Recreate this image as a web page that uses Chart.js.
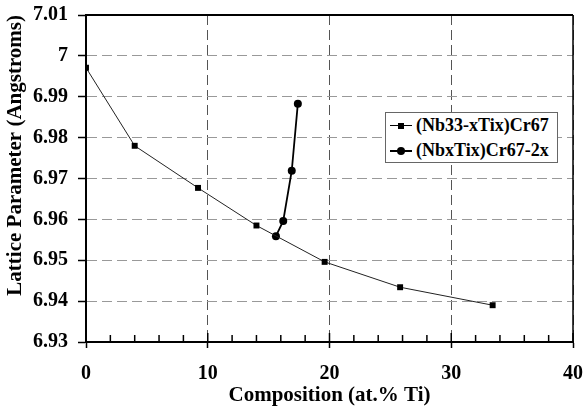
<!DOCTYPE html>
<html>
<head>
<meta charset="utf-8">
<script src="https://cdn.jsdelivr.net/npm/chart.js@4"></script>
<style>
  body { margin: 0; background: #fff; }
  #wrap { position: relative; width: 585px; height: 410px; }
  #legend {
    position: absolute; left: 385px; top: 112px; width: 171px; height: 49px;
    border: 1px solid #666; background: #fff;
    font: bold 18px "Liberation Serif", "Times New Roman", serif; color: #000;
  }
  .row { height: 25px; line-height: 25px; white-space: nowrap; }
  .sym { display: inline-block; position: relative; width: 22px; height: 25px; margin-left: 4px; margin-right: 4px; vertical-align: top; }
  .sym .ln { position: absolute; left: 0; right: 0; top: 12px; border-top: 1px solid #000; }
  .sym .mk { position: absolute; background: #000; }
</style>
</head>
<body>
<div id="wrap">
  <canvas id="chart" width="585" height="410"></canvas>
  <div id="legend"></div>
</div>
<script>
let seriesNames = ["(Nb33-xTix)Cr67", "(NbxTix)Cr67-2x"];
// (Nb33-xTix)Cr67
let tiA = [0, 4.0, 9.2, 14.0, 19.6, 25.8, 33.4];
let latA = [6.9971, 6.978, 6.9677, 6.9585, 6.9496, 6.9434, 6.939];
// (NbxTix)Cr67-2x
let tiB = [15.6, 16.2, 16.9, 17.4];
let latB = [6.9559, 6.9596, 6.9719, 6.9883];

let xTicks = [0, 10, 20, 30, 40];
let yTicks = [6.93, 6.94, 6.95, 6.96, 6.97, 6.98, 6.99, 7.00, 7.01];

const serif = "'Liberation Serif', 'Times New Roman', serif";

function pts(xs, ys) {
  return xs.map((x, i) => ({ x: x, y: ys[i] }));
}

// inside minor ticks on the x axis + top/right frame
const framePlugin = {
  id: 'frame',
  beforeDatasetsDraw(chart) {
    const ctx = chart.ctx;
    const a = chart.chartArea;
    const xs = chart.scales.x;
    ctx.save();
    ctx.strokeStyle = '#000';
    ctx.lineWidth = 1.5;
    for (let v = xs.min; v <= xs.max; v += 2) {
      const px = xs.getPixelForValue(v);
      const len = v % 10 === 0 ? 9 : 7;
      ctx.beginPath();
      ctx.moveTo(px, a.bottom);
      ctx.lineTo(px, a.bottom - len);
      ctx.stroke();
    }
    ctx.lineWidth = 2;
    ctx.beginPath();
    ctx.moveTo(a.left, a.top);
    ctx.lineTo(a.right, a.top);
    ctx.stroke();
    ctx.lineWidth = 1.5;
    ctx.beginPath();
    ctx.moveTo(a.right, a.top);
    ctx.lineTo(a.right, a.bottom);
    ctx.stroke();
    ctx.restore();
  }
};

const chart = new Chart(document.getElementById('chart'), {
  type: 'scatter',
  data: {
    datasets: [
      {
        label: seriesNames[0],
        data: pts(tiA, latA),
        showLine: true,
        borderColor: '#222',
        borderWidth: 1,
        backgroundColor: '#000',
        pointStyle: 'rect',
        pointRadius: 4.2,
        pointBorderWidth: 0
      },
      {
        label: seriesNames[1],
        data: pts(tiB, latB),
        showLine: true,
        borderColor: '#000',
        borderWidth: 1.8,
        backgroundColor: '#000',
        pointStyle: 'circle',
        pointRadius: 4,
        pointBorderWidth: 0
      }
    ]
  },
  options: {
    responsive: false,
    animation: false,
    devicePixelRatio: 1,
    layout: { padding: { top: 15, right: 12, left: 0, bottom: 0 } },
    plugins: { legend: { display: false }, tooltip: { enabled: false } },
    scales: {
      x: {
        type: 'linear',
        min: xTicks[0],
        max: xTicks[xTicks.length - 1],
        afterBuildTicks: s => { s.ticks = xTicks.map(v => ({ value: v })); },
        afterFit: s => { s.height = 68; s.paddingLeft = 0; s.paddingRight = 0; },
        ticks: {
          padding: 14,
          color: '#000',
          font: { family: serif, size: 20, weight: 'bold' },
          maxRotation: 0
        },
        grid: {
          color: '#555',
          lineWidth: 1,
          tickLength: 6,
          tickColor: '#000',
          tickWidth: 1.5
        },
        border: { color: '#000', width: 2, dash: [10, 5] },
        title: {
          display: true,
          text: 'Composition (at.% Ti)',
          color: '#000',
          font: { family: serif, size: 21, weight: 'bold' },
          padding: { top: 0, bottom: 2 }
        }
      },
      y: {
        type: 'linear',
        min: yTicks[0],
        max: yTicks[yTicks.length - 1],
        afterBuildTicks: s => { s.ticks = yTicks.map(v => ({ value: v })); },
        afterFit: s => { s.width = 86; s.paddingTop = 0; s.paddingBottom = 0; },
        ticks: {
          padding: 10,
          color: '#000',
          font: { family: serif, size: 20, weight: 'bold' },
          callback: v => String(+v.toFixed(2))
        },
        grid: {
          color: '#999',
          lineWidth: 1,
          tickLength: 8,
          tickColor: '#000',
          tickWidth: 1.5
        },
        border: { color: '#000', width: 2, dash: [10, 5] },
        title: {
          display: true,
          text: 'Lattice Parameter (Angstroms)',
          align: 'end',
          color: '#000',
          font: { family: serif, size: 21, weight: 'bold' },
          padding: { top: 3, bottom: 0 }
        }
      }
    }
  },
  plugins: [framePlugin]
});

// legend box inside the plot
const legend = document.getElementById('legend');
chart.data.datasets.forEach(ds => {
  const row = document.createElement('div');
  row.className = 'row';
  const sym = document.createElement('span');
  sym.className = 'sym';
  const ln = document.createElement('span');
  ln.className = 'ln';
  ln.style.borderTopWidth = ds.borderWidth > 1 ? '2px' : '1px';
  const mk = document.createElement('span');
  mk.className = 'mk';
  if (ds.pointStyle === 'circle') {
    Object.assign(mk.style, { width: '8px', height: '8px', left: '7px', top: '8.5px', borderRadius: '50%' });
  } else {
    Object.assign(mk.style, { width: '6px', height: '6px', left: '8px', top: '9.5px' });
  }
  sym.appendChild(ln);
  sym.appendChild(mk);
  row.appendChild(sym);
  row.appendChild(document.createTextNode(ds.label));
  legend.appendChild(row);
});
</script>
</body>
</html>
